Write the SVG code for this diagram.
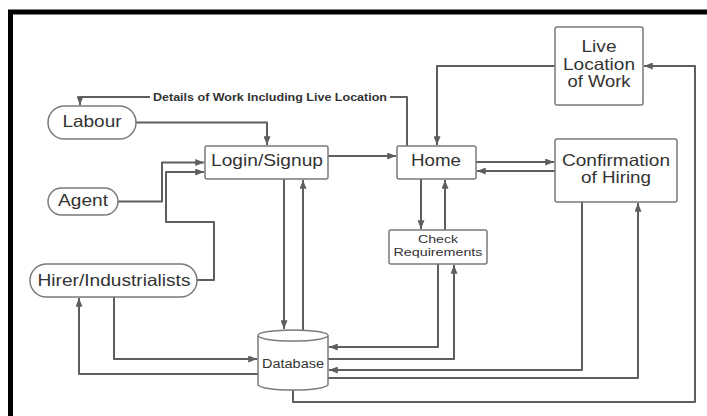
<svg xmlns="http://www.w3.org/2000/svg" width="707" height="416" viewBox="0 0 707 416">
<style>
.n{fill:#fff;stroke:#7a7a7a;stroke-width:1.5}
.t{font-family:"Liberation Sans",Arial,sans-serif;font-size:16.5px;fill:#333;text-anchor:middle}
.s{font-size:12.3px}
.r{font-size:11px}
.c path{fill:none;stroke:#5e5e5e;stroke-width:2;stroke-linejoin:round}
.lbl{font-family:"Liberation Sans",Arial,sans-serif;font-weight:bold;font-size:10.5px;fill:#333}
</style>
<defs>
<marker id="a" viewBox="0 0 10 8" refX="10" refY="4" markerWidth="9" markerHeight="7" orient="auto" markerUnits="userSpaceOnUse">
<path d="M0,0 L10,4 L0,8 z" fill="#5e5e5e"/>
</marker>
</defs>
<rect x="0" y="0" width="707" height="416" fill="#fff"/>
<rect x="10.5" y="12" width="730" height="440" fill="none" stroke="#000" stroke-width="5"/>
<g class="c" marker-end="url(#a)">
<path d="M407,146 V97 H80 V105"/>
<path d="M136,122.5 H267 V145"/>
<path d="M118,201.5 H162 V162.5 H204"/>
<path d="M197,280 H214 V222 H166 V172 H204"/>
<path d="M328,156 H396"/>
<path d="M284,179 V329"/>
<path d="M303,330 V180"/>
<path d="M476,162 H554"/>
<path d="M555,171 H477"/>
<path d="M555,66 H437 V145"/>
<path d="M421,179 V229"/>
<path d="M445,230 V180"/>
<path d="M438,264 V347 H329"/>
<path d="M328,359 H454 V265"/>
<path d="M582,202 V370 H329"/>
<path d="M328,378 H638 V203"/>
<path d="M293,390 V402 H695 V66 H644"/>
<path d="M114,297 V359 H257"/>
<path d="M258,374 H79 V298"/>
</g>
<rect x="150" y="89" width="240" height="14" fill="#fff"/>
<text class="lbl" x="153" y="100.5" textLength="234" lengthAdjust="spacingAndGlyphs">Details of Work Including Live Location</text>
<g id="labour"><rect class="n" x="48" y="106" width="88" height="33" rx="16.5"/><text class="t" x="92" y="127" textLength="59" lengthAdjust="spacingAndGlyphs">Labour</text></g>
<g id="agent"><rect class="n" x="48" y="188" width="70" height="27" rx="13.5"/><text class="t" x="83" y="206" textLength="50" lengthAdjust="spacingAndGlyphs">Agent</text></g>
<g id="hirer"><rect class="n" x="30" y="264" width="167" height="33" rx="16.5"/><text class="t" x="114" y="286" textLength="153" lengthAdjust="spacingAndGlyphs">Hirer/Industrialists</text></g>
<g id="login"><rect class="n" x="205" y="146" width="123" height="33" rx="2"/><text class="t" x="267" y="166" textLength="112" lengthAdjust="spacingAndGlyphs">Login/Signup</text></g>
<g id="home"><rect class="n" x="397" y="146" width="79" height="33" rx="2"/><text class="t" x="436" y="166" textLength="50" lengthAdjust="spacingAndGlyphs">Home</text></g>
<g id="live"><rect class="n" x="555" y="27" width="88" height="78" rx="2"/><text class="t" x="599" y="52" textLength="35" lengthAdjust="spacingAndGlyphs">Live</text><text class="t" x="599" y="70" textLength="72" lengthAdjust="spacingAndGlyphs">Location</text><text class="t" x="599" y="87" textLength="63" lengthAdjust="spacingAndGlyphs">of Work</text></g>
<g id="confirm"><rect class="n" x="555" y="139" width="122" height="63" rx="2"/><text class="t" x="616" y="166" textLength="108" lengthAdjust="spacingAndGlyphs">Confirmation</text><text class="t" x="616" y="183" textLength="70" lengthAdjust="spacingAndGlyphs">of Hiring</text></g>
<g id="check"><rect class="n" x="389" y="230" width="98" height="34" rx="2"/><text class="t r" x="438" y="242.5" textLength="40" lengthAdjust="spacingAndGlyphs">Check</text><text class="t r" x="438" y="256" textLength="89" lengthAdjust="spacingAndGlyphs">Requirements</text></g>
<g id="database"><path class="n" d="M258,335.5 V384.5 A35,5.5 0 0 0 328,384.5 V335.5 A35,5.5 0 0 0 258,335.5 Z"/><path class="n" d="M258,335.5 A35,5.5 0 0 0 328,335.5" fill="none"/><text class="t s" x="293" y="368" textLength="62" lengthAdjust="spacingAndGlyphs">Database</text></g>
</svg>
